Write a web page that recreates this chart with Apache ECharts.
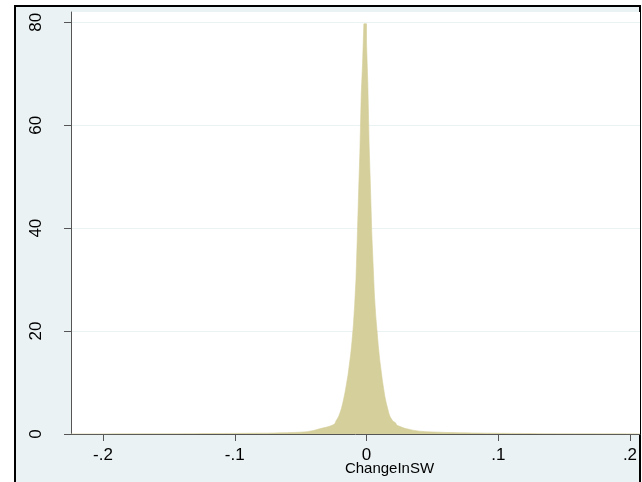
<!DOCTYPE html>
<html>
<head>
<meta charset="utf-8">
<script src="https://cdn.jsdelivr.net/npm/echarts@6/dist/echarts.min.js"></script>
<style>
  html, body { margin: 0; padding: 0; background: #fff; }
  #main { width: 642px; height: 482px; }
</style>
</head>
<body>
<div id="main"></div>
<script>
// bin edges of the histogram (fine in the middle, coarser in the tails)
var binEdges = [
  -0.2243, -0.21, -0.20, -0.19, -0.18, -0.17, -0.16, -0.15, -0.14, -0.13,
  -0.125, -0.12, -0.115, -0.11, -0.105, -0.10, -0.095, -0.09, -0.085, -0.08,
  -0.075, -0.07, -0.065, -0.06, -0.055, -0.05, -0.045, -0.04, -0.035, -0.030,
  -0.029, -0.028, -0.027, -0.026, -0.025, -0.024, -0.023, -0.022, -0.021, -0.020,
  -0.019, -0.018, -0.017, -0.016, -0.015, -0.014, -0.013, -0.012, -0.011, -0.010,
  -0.009, -0.008, -0.007, -0.006, -0.005, -0.004, -0.003, -0.002, -0.001, 0,
  0.001, 0.002, 0.003, 0.004, 0.005, 0.006, 0.007, 0.008, 0.009, 0.010,
  0.011, 0.012, 0.013, 0.014, 0.015, 0.016, 0.017, 0.018, 0.019, 0.020,
  0.021, 0.022, 0.023, 0.024, 0.025, 0.026, 0.027, 0.028, 0.029, 0.030,
  0.035, 0.04, 0.045, 0.05, 0.055, 0.06, 0.065, 0.07, 0.075, 0.08,
  0.085, 0.09, 0.095, 0.10, 0.105, 0.11, 0.115, 0.12, 0.125, 0.13,
  0.14, 0.15, 0.16, 0.17, 0.18, 0.19, 0.20, 0.2076
];
// density of each bin (one less than the edges)
var density = [
  0.02, 0.02, 0.03, 0.03, 0.04, 0.04, 0.05, 0.06, 0.07,
  0.08, 0.09, 0.10, 0.10, 0.11, 0.12, 0.13, 0.14, 0.15, 0.16,
  0.17, 0.19, 0.22, 0.26, 0.30, 0.35, 0.45, 0.70, 1.05,
  1.35, 1.45, 1.5, 1.6, 1.7, 1.8, 2.0, 2.3, 2.6, 3.0,
  3.5, 4.2, 5.0, 6.0, 7.2, 8.5, 10, 11.5, 13.5, 15.5,
  18, 21, 25, 30, 38, 47, 55, 66, 72, 79.7,
  79.7, 76, 68, 56, 48, 39, 33, 27, 23, 20,
  17, 14.5, 12.5, 10.5, 8.8, 7.2, 6.0, 5.0, 4.0, 3.3,
  2.9, 2.5, 2.2, 1.9, 1.7, 1.5, 1.4, 1.3, 1.2, 1.1,
  1.0, 0.75, 0.55, 0.45, 0.40, 0.35, 0.30, 0.27, 0.24, 0.22,
  0.20, 0.18, 0.16, 0.15, 0.14, 0.13, 0.12, 0.11, 0.10, 0.09,
  0.07, 0.06, 0.05, 0.04, 0.04, 0.03, 0.03, 0.02
];
var xTicks = [-0.2, -0.1, 0, 0.1, 0.2];
var yTicks = [0, 20, 40, 60, 80];
var xName = 'ChangeInSW';

// outline of the histogram as a step line: each bin starts at its left edge
var steps = [];
for (var i = 0; i < density.length; i++) {
  steps.push([binEdges[i], density[i]]);
}
steps.push([binEdges[binEdges.length - 1], 0]);

function fmtX(v) {
  // stata style: -.2, .1, 0
  if (v === 0) return '0';
  return String(v).replace('0.', '.');
}

var chart = echarts.init(document.getElementById('main'));
chart.setOption({
  backgroundColor: '#fff',
  animation: false,
  graphic: [{
    type: 'rect',
    z: -10,
    shape: { x: 15, y: 6, width: 625, height: 500 },
    style: { fill: '#eaf2f3', stroke: '#000', lineWidth: 2 }
  }],
  grid: {
    left: 71, right: 2, top: 12, bottom: 48,
    outerBoundsMode: 'none',
    containLabel: false,
    show: true, backgroundColor: '#fff', borderWidth: 0
  },
  xAxis: {
    type: 'value',
    min: -0.2243, max: 0.2076,
    name: xName,
    nameLocation: 'middle',
    nameGap: 27,
    nameMoveOverlap: false,
    nameTextStyle: {
      fontFamily: 'Liberation Sans', fontSize: 15, color: '#000',
      padding: [0, 0, 0, 68]
    },
    axisLine: { onZero: false, lineStyle: { color: '#555', width: 1 } },
    axisTick: { customValues: xTicks, length: 7, lineStyle: { color: '#555' } },
    axisLabel: {
      customValues: xTicks, margin: 13, formatter: fmtX,
      fontFamily: 'Liberation Sans', fontSize: 17, color: '#000'
    },
    splitLine: { show: false }
  },
  yAxis: {
    type: 'value',
    min: 0, max: 82,
    axisLine: { show: true, onZero: false, lineStyle: { color: '#555', width: 1 } },
    axisTick: { show: true, customValues: yTicks, length: 7, lineStyle: { color: '#555' } },
    axisLabel: {
      customValues: yTicks, rotate: 90, margin: 26,
      fontFamily: 'Liberation Sans', fontSize: 17, color: '#000'
    },
    splitLine: { show: true, lineStyle: { color: '#eaf2f3', width: 1 } }
  },
  series: [{
    type: 'line',
    step: 'end',
    data: steps,
    showSymbol: false,
    lineStyle: { color: '#d5cf9b', width: 0.6 },
    areaStyle: { color: '#d5cf9b', opacity: 1 },
    itemStyle: { color: '#d5cf9b' }
  }]
});
</script>
</body>
</html>
